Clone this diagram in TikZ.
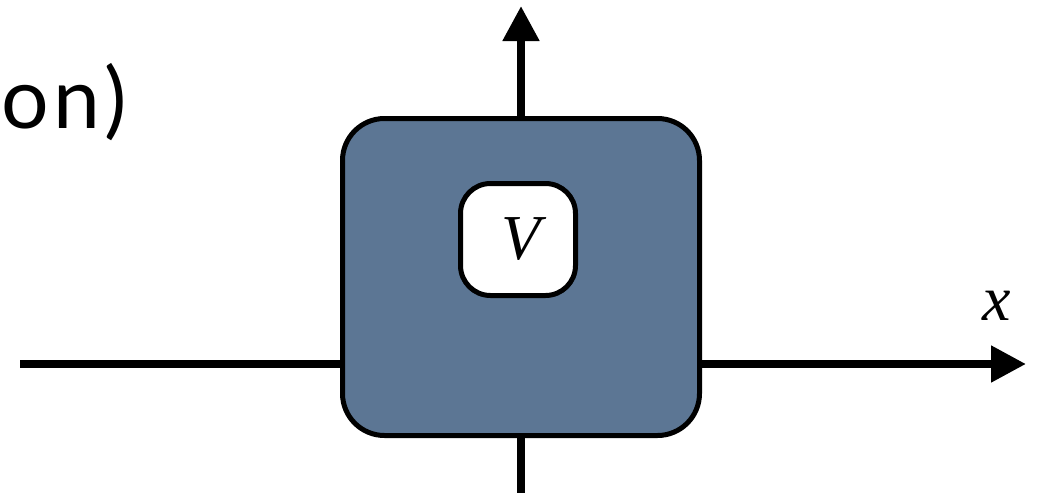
\documentclass[tikz,border=0pt]{standalone}
\usepackage{fontspec}
\setmainfont{Liberation Serif}
\newfontfamily\titlefont[LetterSpace=6]{Lato}
\usetikzlibrary{arrows.meta}
\definecolor{boxblue}{RGB}{92,118,148}
\begin{document}
\begin{tikzpicture}[x=1pt,y=-1pt,
  wire/.style={line width=8pt},
  arrowwire/.style={line width=8pt,-{Triangle[length=35pt,width=35pt]}},
  bigbox/.style={draw,line width=5pt,fill=boxblue,rounded corners=42pt,
    minimum width=357pt,minimum height=317pt,inner sep=0pt},
  vbox/.style={draw,line width=5pt,fill=white,rounded corners=30pt,
    minimum width=115pt,minimum height=112pt,inner sep=0pt,
    font=\fontsize{64}{64}\selectfont\itshape},
  lbl/.style={inner sep=0pt,font=\fontsize{64}{64}\selectfont\itshape}]
\useasboundingbox (0,0) rectangle (1045,496);
\node[anchor=base west,inner sep=0pt,font=\titlefont\fontsize{84}{84}\selectfont] (title) at (1,128) {on)};
\coordinate (L) at (20,364);
\coordinate (R) at (1026,364);
\coordinate (T) at (521,6);
\coordinate (B) at (521,493);
\node[bigbox] (sys) at (521,277) {};
\node[vbox] (v) at (518,239.5) {\hspace*{6pt}V};
\draw[wire] (L) -- (L -| sys.west);
\draw[arrowwire] (L -| sys.east) -- (R);
\draw[arrowwire] (sys.north) -- (T);
\draw[wire] (sys.south) -- (B);
\node[lbl,anchor=base] (xl) at (997,320) {x};
\end{tikzpicture}
\end{document}
